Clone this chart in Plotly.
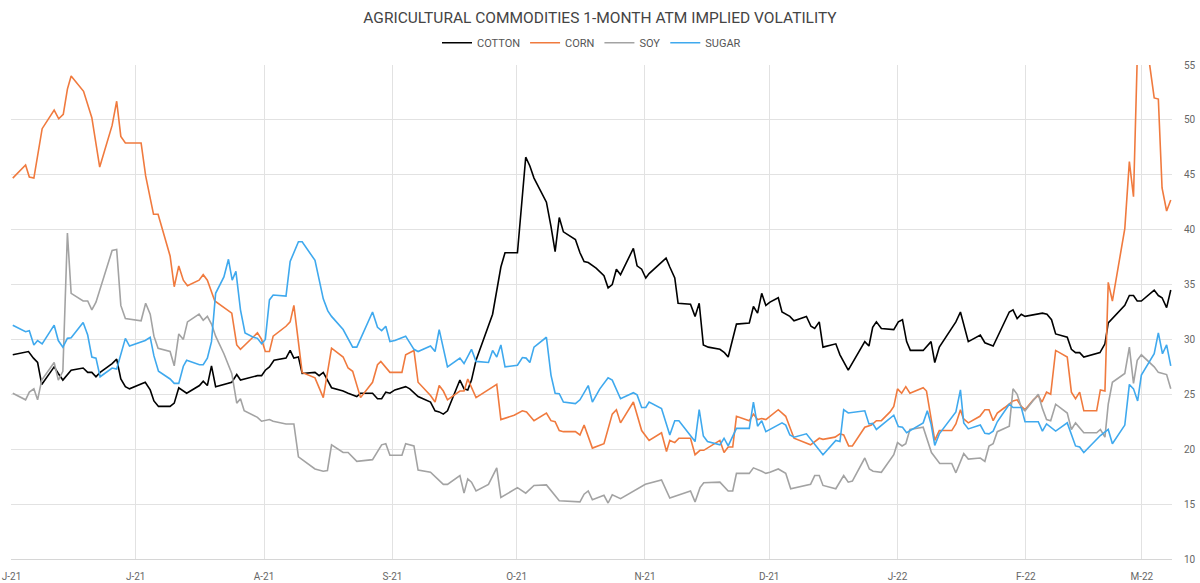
import numpy as np
import pandas as pd
import plotly.graph_objects as go

# ---- data (day offsets are days since 2021-06-01) ----
base_date = pd.Timestamp("2021-06-01")

cotton_day = [0.3, 2.5, 4.1, 5.3, 6.3, 7.3, 10.3, 11.3, 12.4, 14.4,
              17.3, 18.4, 19.4, 20.4, 21.4, 24.3, 25.4, 26.4, 27.5, 28.5,
              32.3, 33.5, 34.4, 35.5, 38.3, 39.3, 40.4, 42.3, 45.4, 46.3,
              47.3, 48.3, 49.3, 53.2, 54.4, 55.3, 59.4, 60.4, 61.3, 62.3,
              63.4, 66.3, 67.3, 68.2, 69.3, 70.2, 73.3, 74.3, 75.3, 77.3,
              80.1, 81.3, 83.4, 84.3, 87.2, 88.4, 89.4, 90.4, 91.4, 92.6,
              95.2, 96.2, 98.2, 101.2, 102.3, 103.3, 104.3, 105.3, 108.3, 109.3,
              110.2, 111.1, 112.2, 116.2, 118.2, 119.2, 122.2, 124.2, 125.2, 126.2,
              129.2, 130.3, 131.3, 132.3, 133.3, 136.2, 137.3, 138.3, 139.3, 141.2,
              143.1, 144.1, 145.1, 146.1, 147.1, 150.2, 151.1, 152.2, 153.2, 154.0,
              158.1, 159.0, 160.2, 161.0, 164.0, 165.1, 166.1, 167.1, 168.3, 171.1,
              172.2, 173.1, 175.1, 178.2, 179.2, 180.2, 181.2, 182.2, 183.2, 185.2,
              186.1, 188.0, 189.0, 192.0, 193.1, 194.0, 195.1, 196.0, 199.1, 200.1,
              201.0, 202.1, 206.1, 207.1, 208.0, 208.9, 210.1, 213.1, 214.2, 215.2,
              216.2, 217.1, 220.2, 222.1, 223.0, 224.1, 228.1, 229.2, 231.1, 234.0,
              235.1, 237.1, 241.0, 241.9, 242.9, 243.9, 244.8, 249.0, 250.1, 251.2,
              252.2, 255.0, 256.0, 257.0, 258.0, 259.0, 262.9, 264.1, 264.9, 268.9,
              270.0, 271.0, 271.9, 272.9, 276.0, 277.0, 277.9, 279.0, 280.0]
cotton_vol = [28.6, 28.8, 28.9, 28.3, 27.9, 25.9, 27.5, 26.9, 26.3, 27.2,
              27.4, 27.0, 27.0, 26.6, 27.0, 27.8, 28.2, 26.4, 25.7, 25.5,
              26.1, 25.4, 24.4, 23.9, 23.9, 24.2, 25.6, 25.1, 25.8, 26.2,
              25.8, 27.6, 25.7, 26.1, 26.8, 26.3, 26.7, 26.7, 27.2, 27.5,
              28.1, 28.3, 29.0, 28.3, 28.4, 26.9, 27.0, 26.7, 27.0, 25.6,
              25.3, 25.1, 24.8, 25.1, 25.1, 24.6, 24.6, 25.2, 25.1, 25.4,
              25.7, 25.5, 24.8, 24.3, 23.5, 23.4, 23.2, 23.5, 26.3, 25.5,
              25.4, 26.3, 28.1, 32.3, 36.6, 37.9, 37.9, 46.6, 45.8, 44.7,
              42.5, 40.3, 38.0, 41.1, 39.8, 39.1, 37.9, 37.1, 37.0, 36.5,
              35.8, 34.7, 35.0, 36.4, 35.9, 38.3, 36.7, 36.4, 35.6, 36.0,
              37.4, 36.6, 35.6, 33.3, 33.2, 32.1, 33.3, 29.5, 29.3, 29.1,
              28.8, 28.4, 31.4, 31.5, 33.0, 32.4, 34.2, 33.1, 33.4, 33.8,
              32.5, 32.1, 31.7, 32.1, 31.2, 31.0, 31.6, 29.3, 29.6, 28.6,
              28.0, 27.2, 29.8, 29.4, 31.1, 31.6, 31.0, 30.9, 31.6, 31.8,
              29.8, 29.0, 29.0, 29.8, 27.9, 29.3, 31.6, 32.5, 29.8, 30.4,
              29.7, 29.4, 32.5, 32.7, 31.9, 32.3, 32.1, 32.4, 32.3, 31.8,
              30.5, 30.2, 29.1, 28.8, 28.8, 28.4, 28.8, 29.6, 31.5, 33.1,
              34.0, 34.0, 33.5, 33.5, 34.5, 34.0, 33.8, 32.9, 34.5]

corn_day = [0.3, 3.4, 4.3, 5.4, 7.4, 10.3, 11.4, 12.5, 13.5, 14.4,
            17.4, 19.4, 21.3, 24.3, 25.4, 26.4, 27.5, 31.3, 32.4, 34.3,
            35.4, 38.3, 39.3, 40.4, 41.5, 42.5, 45.3, 46.3, 47.3, 49.1,
            53.2, 54.4, 55.3, 59.4, 60.4, 61.3, 62.3, 63.2, 66.3, 67.3,
            68.2, 70.2, 73.3, 75.3, 77.3, 80.1, 81.3, 82.4, 84.3, 87.2,
            88.4, 89.2, 91.4, 92.6, 94.3, 95.2, 97.2, 98.2, 101.2, 102.3,
            103.3, 104.3, 105.3, 108.3, 109.3, 110.2, 112.2, 117.2, 118.2, 121.4,
            123.4, 124.4, 126.2, 129.2, 130.3, 131.3, 132.3, 133.3, 136.2, 137.3,
            138.3, 140.3, 143.1, 145.1, 146.1, 147.1, 150.2, 152.2, 154.0, 157.0,
            158.2, 159.0, 160.2, 161.2, 164.0, 165.1, 166.3, 167.2, 171.1, 172.1,
            173.1, 174.2, 175.1, 178.2, 179.2, 180.2, 181.2, 182.2, 183.2, 185.2,
            187.0, 189.0, 193.0, 195.1, 196.0, 198.9, 200.1, 201.0, 202.2, 203.1,
            206.1, 207.7, 208.9, 210.1, 212.2, 213.1, 214.0, 215.0, 216.0, 217.0,
            220.2, 221.0, 223.0, 224.1, 227.1, 228.1, 229.2, 229.9, 231.1, 233.9,
            235.1, 236.1, 237.1, 238.1, 239.9, 241.9, 242.9, 243.9, 244.8, 246.8,
            248.0, 248.9, 250.0, 251.0, 252.2, 255.0, 256.0, 257.0, 258.0, 259.0,
            262.1, 263.0, 264.1, 264.9, 265.9, 268.9, 270.0, 271.0, 272.0, 273.0,
            274.0, 276.0, 277.0, 277.9, 279.0, 280.0]
corn_vol = [44.7, 45.9, 44.8, 44.7, 49.2, 50.9, 50.1, 50.5, 52.8, 54.0,
            52.6, 50.2, 45.7, 49.5, 51.7, 48.5, 47.9, 47.9, 44.9, 41.4,
            41.4, 37.6, 34.8, 36.7, 35.4, 34.9, 35.4, 35.9, 35.4, 33.5,
            32.4, 29.5, 29.1, 30.6, 30.0, 28.9, 28.9, 30.3, 31.2, 31.6,
            33.1, 27.0, 26.5, 24.7, 29.2, 28.4, 27.4, 27.1, 24.7, 26.1,
            27.7, 28.0, 27.0, 27.0, 27.0, 28.6, 29.0, 26.1, 24.9, 24.3,
            25.8, 25.3, 24.5, 25.3, 25.3, 26.4, 24.7, 25.9, 22.7, 23.1,
            23.5, 23.4, 22.6, 23.3, 22.6, 22.5, 21.7, 21.6, 21.6, 21.3,
            22.2, 20.1, 20.5, 23.2, 23.6, 22.4, 24.3, 21.7, 20.8, 21.5,
            19.8, 20.8, 20.6, 21.0, 21.0, 19.5, 19.9, 19.9, 20.8, 19.7,
            20.2, 20.2, 23.0, 22.6, 23.2, 22.7, 22.8, 22.7, 23.0, 23.6,
            23.0, 21.0, 20.4, 21.0, 20.9, 21.1, 21.4, 21.3, 20.3, 20.3,
            22.0, 22.2, 22.6, 22.6, 23.4, 23.9, 25.5, 25.1, 25.7, 25.1,
            25.6, 25.3, 20.8, 21.7, 21.7, 22.3, 23.6, 22.8, 22.4, 23.0,
            23.6, 23.6, 22.6, 23.3, 23.8, 24.4, 24.5, 23.9, 23.6, 24.5,
            24.9, 24.3, 25.2, 25.0, 29.0, 28.4, 25.2, 24.6, 25.2, 23.5,
            23.5, 25.4, 25.3, 35.2, 33.5, 40.1, 46.2, 43.0, 57.0, 60.0,
            57.5, 52.0, 51.9, 43.8, 41.7, 42.7]

soy_day = [0.3, 3.4, 4.3, 5.4, 6.3, 7.3, 10.3, 11.3, 12.4, 13.5,
           14.4, 17.3, 18.4, 19.4, 20.4, 24.3, 25.4, 26.4, 27.5, 31.3,
           32.4, 33.5, 34.4, 35.4, 38.3, 39.3, 40.4, 41.5, 42.5, 45.3,
           46.3, 47.3, 48.3, 49.3, 51.3, 53.2, 54.4, 55.3, 56.2, 59.4,
           60.4, 62.3, 63.2, 66.3, 68.2, 69.3, 73.3, 75.3, 76.3, 77.3,
           80.1, 81.3, 83.4, 87.2, 89.4, 90.4, 91.4, 94.3, 95.2, 97.2,
           98.2, 101.2, 104.3, 105.3, 108.3, 109.3, 110.2, 111.1, 112.2, 115.2,
           117.2, 118.2, 122.2, 124.2, 126.2, 129.2, 132.3, 137.3, 138.3, 139.3,
           140.3, 143.1, 144.1, 145.1, 147.1, 150.2, 153.1, 157.0, 159.0, 164.0,
           165.1, 166.3, 167.2, 171.1, 173.1, 174.2, 175.1, 178.2, 179.2, 181.2,
           182.2, 183.2, 185.2, 187.0, 188.2, 193.0, 194.0, 195.1, 196.0, 199.1,
           201.0, 202.1, 203.1, 206.1, 207.2, 208.1, 210.1, 213.1, 214.0, 215.1,
           216.0, 217.0, 220.2, 222.2, 224.2, 227.1, 228.1, 230.0, 231.1, 234.0,
           235.1, 236.1, 237.1, 238.1, 241.0, 241.9, 242.9, 243.9, 244.8, 248.0,
           249.0, 250.0, 251.0, 252.2, 255.0, 256.0, 257.0, 259.0, 262.1, 263.0,
           264.1, 264.9, 265.9, 268.9, 270.0, 271.0, 271.9, 272.9, 276.0, 277.0,
           277.9, 279.0, 280.0]
soy_vol = [25.1, 24.5, 25.2, 25.5, 24.5, 26.3, 27.9, 26.3, 27.1, 39.7,
           34.2, 33.5, 33.5, 32.7, 33.4, 38.1, 38.2, 33.1, 31.9, 31.7,
           33.3, 32.3, 30.3, 29.2, 28.9, 27.6, 30.5, 30.0, 31.6, 32.3,
           31.75, 32.1, 31.4, 30.3, 28.7, 26.9, 24.2, 24.6, 23.5, 22.9,
           22.55, 22.7, 22.55, 22.3, 22.3, 19.3, 18.2, 18.0, 18.05, 20.4,
           19.7, 19.7, 18.9, 19.05, 20.4, 20.5, 19.45, 19.45, 20.5, 20.3,
           18.1, 17.9, 16.8, 16.8, 17.6, 16.0, 17.3, 17.0, 16.2, 16.8,
           18.3, 15.6, 16.5, 16.0, 16.7, 16.75, 15.3, 15.2, 15.9, 16.2,
           15.4, 15.8, 15.1, 15.85, 15.5, 16.2, 16.8, 17.2, 15.55, 16.2,
           15.2, 16.5, 16.95, 17.0, 16.2, 16.2, 17.8, 17.8, 18.3, 18.0,
           17.8, 17.9, 18.2, 17.8, 16.4, 16.8, 17.6, 17.6, 16.7, 16.4,
           17.6, 17.0, 17.1, 19.2, 18.2, 18.0, 17.9, 19.5, 20.6, 20.3,
           20.5, 21.8, 22.0, 19.7, 18.7, 18.7, 17.85, 19.6, 19.1, 19.2,
           18.9, 20.3, 20.5, 21.6, 22.1, 25.5, 25.0, 23.8, 23.5, 25.0,
           23.7, 22.7, 22.6, 24.1, 23.3, 21.8, 22.4, 21.5, 21.5, 21.8,
           21.1, 24.1, 26.1, 26.9, 29.3, 26.0, 28.1, 28.6, 27.5, 27.0,
           26.9, 26.8, 25.5]

sugar_day = [0.3, 3.4, 4.3, 5.4, 6.3, 7.4, 10.3, 11.3, 12.4, 13.5,
             14.4, 17.3, 18.4, 19.4, 20.4, 21.4, 24.3, 25.4, 27.5, 28.5,
             32.3, 33.5, 34.4, 35.5, 38.3, 39.3, 40.4, 41.5, 42.3, 45.4,
             46.3, 47.3, 48.3, 49.3, 51.3, 52.4, 53.3, 54.2, 55.3, 56.4,
             58.4, 59.4, 60.4, 61.3, 62.3, 63.2, 66.3, 67.3, 69.3, 70.2,
             73.3, 75.3, 76.4, 77.3, 80.1, 81.3, 82.4, 83.4, 87.2, 88.4,
             89.4, 90.4, 91.4, 92.6, 95.2, 97.2, 98.2, 101.2, 102.3, 103.3,
             105.3, 108.3, 109.3, 111.1, 112.2, 115.2, 116.2, 117.2, 118.2, 119.2,
             122.2, 123.4, 124.3, 125.2, 126.2, 129.2, 130.3, 131.3, 132.3, 133.3,
             136.2, 137.3, 138.3, 139.3, 140.3, 142.1, 144.1, 145.1, 147.1, 150.2,
             151.1, 152.2, 153.2, 154.0, 157.0, 159.0, 160.2, 161.2, 165.1, 166.1,
             167.1, 168.1, 171.1, 172.1, 173.1, 175.1, 178.2, 179.2, 180.2, 181.2,
             182.2, 183.2, 186.1, 187.0, 188.0, 189.0, 192.0, 196.0, 199.1, 200.1,
             201.0, 202.1, 206.1, 207.1, 208.0, 208.9, 213.1, 214.2, 215.2, 216.2,
             220.2, 221.2, 222.1, 223.0, 224.1, 228.1, 229.2, 230.0, 231.1, 234.0,
             235.1, 236.1, 237.1, 238.1, 241.0, 241.9, 243.9, 244.8, 248.0, 249.0,
             250.0, 252.2, 255.0, 257.0, 258.0, 259.0, 263.0, 264.9, 265.9, 268.9,
             270.0, 271.0, 272.0, 272.9, 276.0, 277.0, 278.0, 279.0, 280.0]
sugar_vol = [31.3, 30.7, 30.8, 29.5, 29.9, 29.6, 31.3, 29.9, 29.3, 30.1,
             30.15, 31.55, 30.4, 28.4, 28.3, 26.6, 27.4, 27.3, 30.1, 29.4,
             29.9, 30.2, 28.5, 27.1, 26.4, 26.0, 26.0, 27.56, 28.1, 27.7,
             27.7, 28.3, 29.8, 34.2, 35.7, 37.3, 35.4, 36.2, 32.7, 30.6,
             30.2, 30.1, 29.6, 30.0, 33.6, 34.05, 33.95, 37.1, 38.9, 38.9,
             37.2, 33.7, 32.6, 32.1, 30.9, 30.1, 29.3, 29.3, 32.5, 31.1,
             30.8, 31.2, 29.8, 29.9, 30.3, 29.1, 28.9, 29.4, 28.9, 30.9,
             27.5, 28.3, 27.8, 29.1, 28.0, 27.9, 29.0, 28.4, 29.5, 27.5,
             27.65, 28.35, 28.3, 27.9, 29.3, 30.2, 26.75, 25.1, 25.06, 24.3,
             24.15, 24.5, 25.2, 25.8, 24.3, 25.5, 26.5, 26.3, 24.6, 25.15,
             24.95, 23.8, 23.8, 24.3, 23.7, 21.3, 22.6, 22.6, 20.7, 23.6,
             21.2, 20.7, 20.4, 21.0, 20.3, 21.9, 21.9, 24.3, 22.1, 22.6,
             21.6, 21.8, 22.4, 22.2, 21.3, 21.1, 21.4, 19.5, 20.8, 20.7,
             23.6, 23.3, 23.5, 22.3, 22.35, 21.8, 23.1, 22.06, 22.0, 21.5,
             22.4, 23.5, 22.3, 20.35, 21.4, 23.4, 25.4, 22.4, 21.85, 22.2,
             21.45, 21.4, 21.65, 22.5, 24.1, 23.8, 23.8, 22.5, 22.5, 21.65,
             22.3, 21.65, 22.4, 20.3, 20.2, 19.7, 21.25, 21.8, 20.5, 22.2,
             25.9, 25.5, 24.4, 26.75, 28.7, 30.6, 28.7, 29.5, 27.6]

series_names = ["COTTON", "CORN", "SOY", "SUGAR"]
series_colors = ["#000000", "#F07A3E", "#A3A3A3", "#3FA9EE"]

tick_dates = ["2021-06-01", "2021-07-01", "2021-08-01", "2021-09-01", "2021-10-01",
              "2021-11-01", "2021-12-01", "2022-01-01", "2022-02-01", "2022-03-01"]
tick_text = ["J-21", "J-21", "A-21", "S-21", "O-21", "N-21", "D-21", "J-22", "F-22", "M-22"]


def to_dates(days):
    return base_date + pd.to_timedelta(np.array(days, dtype=float), unit="D")


all_days = [cotton_day, corn_day, soy_day, sugar_day]
all_vols = [cotton_vol, corn_vol, soy_vol, sugar_vol]

fig = go.Figure()
for name, color, d, v in zip(series_names, series_colors, all_days, all_vols):
    fig.add_trace(go.Scatter(
        x=to_dates(d), y=v, mode="lines", name=name,
        line=dict(color=color, width=1.6),
    ))

FONT = "Roboto, 'DejaVu Sans', sans-serif"
x_start = base_date - pd.Timedelta(hours=3)
x_end = base_date + pd.Timedelta(days=280.3)

fig.update_layout(
    width=1200, height=583,
    paper_bgcolor="white", plot_bgcolor="white",
    margin=dict(l=11, r=28, t=65, b=24, autoexpand=False),
    font=dict(family=FONT, color="#555555"),
    title=dict(
        text="AGRICULTURAL COMMODITIES 1-MONTH ATM IMPLIED VOLATILITY",
        x=0.5, xanchor="center", yref="container", y=0.969, yanchor="middle",
        font=dict(family=FONT, size=15.5, color="#444444"),
    ),
    legend=dict(
        orientation="h", x=0.5, xanchor="center", y=1.045, yanchor="middle",
        font=dict(family=FONT, size=11, color="#555555"),
        itemwidth=30, bgcolor="rgba(0,0,0,0)",
    ),
    showlegend=True,
    xaxis=dict(
        type="date", range=[x_start, x_end], automargin=False,
        tickmode="array", tickvals=tick_dates, ticktext=tick_text,
        showgrid=True, gridcolor="#e2e2e2", gridwidth=1,
        showline=True, linecolor="#d6d6d6", linewidth=1,
        ticks="", ticklabelstandoff=8,
        tickfont=dict(family=FONT, size=10, color="#666666"),
        zeroline=False,
    ),
    yaxis=dict(
        side="right", range=[10, 55], dtick=5, tick0=10, automargin=False,
        showgrid=True, gridcolor="#e2e2e2", gridwidth=1,
        showline=False, zeroline=False, ticks="",
        ticklabelstandoff=11,
        tickfont=dict(family=FONT, size=10, color="#666666"),
    ),
)

fig.write_html("out.html")
